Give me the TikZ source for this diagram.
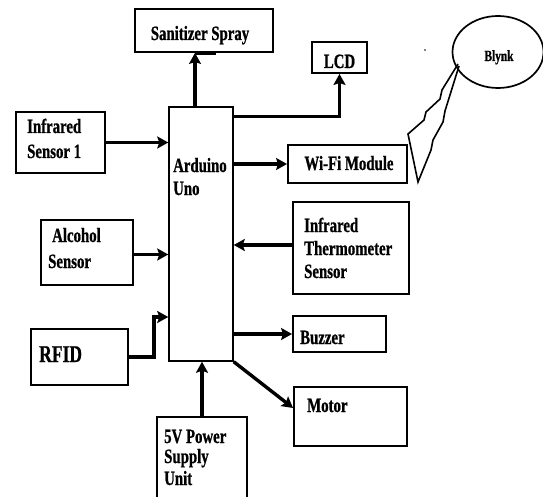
\documentclass[tikz,border=0pt]{standalone}
\usepackage{fontspec}
\newfontfamily\labfont[FakeStretch=0.73, FakeBold=0.8]{Liberation Serif}
\usetikzlibrary{arrows.meta,fit,shapes.geometric}
\tikzset{
  box/.style={draw, line width=1.9pt, inner sep=0pt},
  lbl/.style={inner sep=0pt, font=\labfont\bfseries\fontsize{20.3}{23}\selectfont, align=left},
  conn/.style={line width=3.4pt, -{Stealth[length=11pt,width=12pt,inset=2pt]}},
}
\begin{document}
\begin{tikzpicture}[x=1pt,y=-1pt]
\useasboundingbox (0,0) rectangle (543,497);
% boxes
\node[box, fit={(135,9)(273,52)}] (san) {};
\node[box, fit={(312,42)(367,73)}] (lcd) {};
\node[box, line width=1.5pt, fit={(169,107)(233,361)}] (ard) {};
\node[box, fit={(16,112)(105,173)}] (ir1) {};
\node[box, fit={(41,220)(133,285)}] (alc) {};
\node[box, fit={(31,329)(128,385)}] (rfid) {};
\node[box, fit={(288,145)(407,183)}] (wifi) {};
\node[box, fit={(293,202)(409,294)}] (thermo) {};
\node[box, fit={(293,316)(386,352)}] (buz) {};
\node[box, fit={(294,387)(407,446)}] (mot) {};
\node[box, fit={(157,417)(247,502)}] (pow) {};
\node[draw, line width=1.7pt, ellipse, minimum width=91pt, minimum height=72pt, inner sep=0pt] (blynk) at (498,52) {};
% labels
\node[lbl, anchor=base] (tsan) at (200,40) {Sanitizer Spray};
\node[lbl, anchor=base] (tlcd) at (339.5,68) {LCD};
\node[lbl, anchor=base west] (tard1) at (173,172) {Arduino};
\node[lbl, anchor=base west] (tard2) at (173,195) {Uno};
\node[lbl, anchor=base west] (tir1a) at (27,133) {Infrared};
\node[lbl, anchor=base west] (tir1b) at (27,158) {Sensor 1};
\node[lbl, anchor=base west] (talc1) at (52,242) {Alcohol};
\node[lbl, anchor=base west] (talc2) at (48,268) {Sensor};
\node[lbl, anchor=base west, font=\labfont\bfseries\fontsize{24}{27}\selectfont] (trfid) at (39,362) {RFID};
\node[lbl, anchor=base] (twifi) at (349,170) {Wi-Fi Module};
\node[lbl, anchor=base west] (tth1) at (304,232) {Infrared};
\node[lbl, anchor=base west] (tth2) at (304,255) {Thermometer};
\node[lbl, anchor=base west] (tth3) at (304,278) {Sensor};
\node[lbl, anchor=base west] (tbuz) at (300,344) {Buzzer};
\node[lbl, anchor=base west] (tmot) at (307,412) {Motor};
\node[lbl, anchor=base west] (tpow1) at (164,443) {5V Power};
\node[lbl, anchor=base west] (tpow2) at (164,463) {Supply};
\node[lbl, anchor=base west] (tpow3) at (164,485) {Unit};
\node[lbl, anchor=base, font=\labfont\bfseries\fontsize{15.5}{18}\selectfont] (tbly) at (499,61) {Blynk};
% connectors
\draw[conn] ([xshift=-9pt]san.south |- ard.north) -- ([xshift=-9pt]san.south);
\draw[line width=3.4pt] ([xshift=-9pt]san.south) -- ([xshift=12pt]san.south);
\draw[conn] ([yshift=-10pt]ard.north east) -| (lcd.south);
\draw[conn] (ir1.east) -- (ir1.east -| ard.west);
\draw[conn] ([yshift=-2pt]alc.east) -- ([yshift=-2pt]alc.east -| ard.west);
\draw[conn, line width=4pt] (rfid.east) -- ++(25,0) |- ([yshift=-83pt]ard.west);
\draw[conn] (ard.east |- wifi.west) -- (wifi.west);
\draw[conn] ([yshift=3pt]thermo.west) -- ([yshift=3pt]thermo.west -| ard.east);
\draw[conn] (buz.west -| ard.east) -- (buz.west);
\draw[conn] (ard.south east) -- ([yshift=8.5pt]mot.west);
\draw[conn] (pow.north) -- (pow.north |- ard.south);
% lightning bolt
\draw[line width=1.6pt, line join=miter] (458,64) -- (442,90) -- (440,99) -- (426,112) -- (424,120) -- (408,134) -- (418,182)
  -- (431,150) -- (433,140) -- (443,122) -- (445,111) -- (459,66);
\fill (425,50) circle (0.9);
\end{tikzpicture}
\end{document}
